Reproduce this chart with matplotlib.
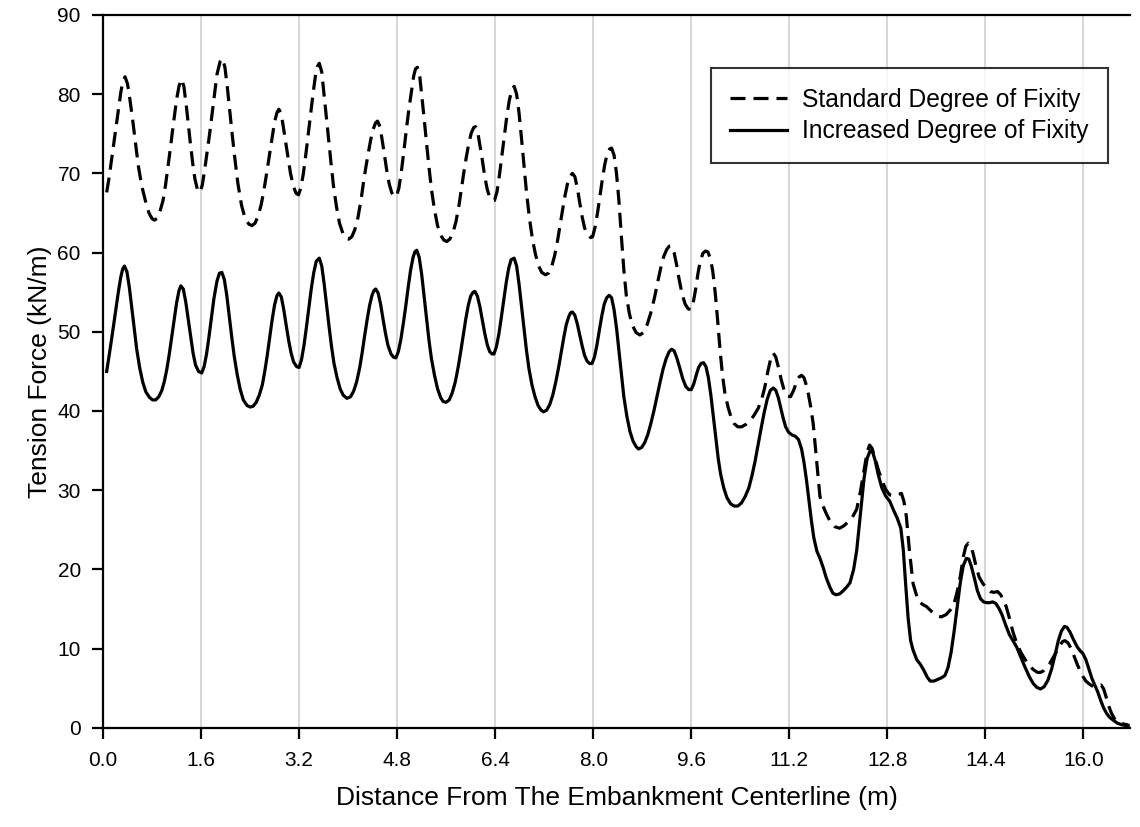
import matplotlib
matplotlib.use("Agg")
import matplotlib.pyplot as plt

plt.rcParams['font.family'] = ['Liberation Sans', 'DejaVu Sans']

# Standard Degree of Fixity (dashed)
std_x = [0.06, 0.10, 0.15, 0.20, 0.25, 0.29, 0.32, 0.36, 0.40, 0.44, 0.48, 0.51, 0.55, 0.58, 0.63, 0.69, 0.75, 0.80, 0.84, 0.88,
         0.93, 0.98, 1.02, 1.06, 1.10, 1.13, 1.17, 1.20, 1.24, 1.28, 1.32, 1.36, 1.40, 1.43, 1.47, 1.50, 1.54, 1.58, 1.62, 1.66,
         1.70, 1.74, 1.78, 1.82, 1.86, 1.91, 1.95, 1.99, 2.03, 2.07, 2.11, 2.15, 2.20, 2.26, 2.32, 2.38, 2.43, 2.48, 2.53, 2.58,
         2.62, 2.66, 2.70, 2.74, 2.78, 2.81, 2.84, 2.87, 2.91, 2.94, 2.98, 3.02, 3.06, 3.11, 3.15, 3.19, 3.23, 3.27, 3.31, 3.35,
         3.39, 3.43, 3.47, 3.50, 3.53, 3.57, 3.60, 3.64, 3.68, 3.72, 3.76, 3.81, 3.86, 3.92, 3.97, 4.01, 4.06, 4.11, 4.16, 4.21,
         4.25, 4.29, 4.33, 4.37, 4.41, 4.45, 4.48, 4.52, 4.55, 4.59, 4.63, 4.67, 4.71, 4.75, 4.79, 4.83, 4.87, 4.91, 4.95, 4.99,
         5.03, 5.07, 5.10, 5.13, 5.17, 5.20, 5.24, 5.28, 5.32, 5.36, 5.41, 5.46, 5.51, 5.56, 5.61, 5.66, 5.71, 5.76, 5.81, 5.85,
         5.89, 5.93, 5.97, 6.01, 6.05, 6.08, 6.12, 6.15, 6.19, 6.23, 6.27, 6.31, 6.35, 6.39, 6.43, 6.47, 6.51, 6.55, 6.59, 6.63,
         6.67, 6.71, 6.75, 6.79, 6.83, 6.87, 6.91, 6.96, 7.01, 7.06, 7.11, 7.16, 7.22, 7.27, 7.32, 7.37, 7.42, 7.46, 7.50, 7.54,
         7.58, 7.62, 7.66, 7.70, 7.74, 7.78, 7.82, 7.86, 7.91, 7.96, 7.99, 8.03, 8.07, 8.11, 8.15, 8.19, 8.23, 8.27, 8.30, 8.34,
         8.38, 8.42, 8.46, 8.50, 8.54, 8.59, 8.64, 8.70, 8.76, 8.82, 8.88, 8.94, 9.00, 9.05, 9.10, 9.15, 9.20, 9.24, 9.28, 9.32,
         9.36, 9.40, 9.45, 9.50, 9.55, 9.59, 9.63, 9.67, 9.71, 9.75, 9.79, 9.83, 9.87, 9.91, 9.95, 9.99, 10.03, 10.07, 10.11, 10.15,
         10.20, 10.25, 10.30, 10.36, 10.42, 10.49, 10.55, 10.62, 10.69, 10.75, 10.80, 10.85, 10.90, 10.94, 10.98, 11.02, 11.07, 11.12, 11.17, 11.22,
         11.27, 11.32, 11.36, 11.40, 11.44, 11.48, 11.51, 11.55, 11.59, 11.64, 11.70, 11.75, 11.80, 11.87, 11.94, 12.02, 12.09, 12.16, 12.23, 12.30,
         12.36, 12.42, 12.47, 12.51, 12.55, 12.60, 12.66, 12.73, 12.78, 12.84, 12.90, 12.96, 13.03, 13.07, 13.11, 13.16, 13.22, 13.30, 13.37, 13.44,
         13.52, 13.60, 13.68, 13.76, 13.83, 13.88, 13.94, 13.99, 14.04, 14.08, 14.12, 14.16, 14.20, 14.25, 14.30, 14.36, 14.42, 14.48, 14.54, 14.60,
         14.65, 14.70, 14.74, 14.79, 14.85, 14.91, 14.98, 15.05, 15.12, 15.19, 15.25, 15.30, 15.35, 15.40, 15.45, 15.50, 15.56, 15.61, 15.66, 15.70,
         15.75, 15.80, 15.85, 15.90, 15.95, 15.99, 16.04, 16.10, 16.16, 16.22, 16.29, 16.33, 16.37, 16.41, 16.46, 16.51, 16.55, 16.61, 16.67, 16.73]
std_y = [67.6, 69.5, 72.3, 75.1, 78.0, 80.2, 81.5, 82.2, 81.3, 79.3, 77.0, 75.1, 72.6, 70.8, 68.5, 66.6, 65.0, 64.3, 64.1, 64.3,
         65.2, 66.6, 68.5, 70.8, 73.2, 75.1, 77.5, 79.3, 81.0, 81.9, 81.0, 78.5, 75.6, 73.5, 70.9, 69.3, 68.0, 67.6, 68.5, 70.5,
         72.7, 75.0, 77.5, 80.0, 82.5, 84.1, 84.5, 83.4, 80.8, 77.8, 74.8, 72.0, 68.8, 66.0, 64.3, 63.6, 63.4, 63.7, 64.6, 66.0,
         67.6, 69.5, 71.5, 73.5, 75.5, 76.8, 77.7, 78.1, 77.5, 76.0, 74.0, 72.0, 70.0, 68.3, 67.5, 67.3, 68.2, 70.0, 72.4, 75.0,
         77.6, 80.2, 82.5, 83.5, 83.9, 82.8, 80.5, 77.5, 74.5, 71.4, 68.5, 65.8, 63.7, 62.3, 61.8, 61.7, 62.0, 62.9, 64.4, 66.6,
         68.8, 70.8, 72.6, 74.3, 75.6, 76.4, 76.6, 75.9, 74.5, 72.5, 70.4, 68.7, 67.6, 67.1, 67.1, 68.2, 70.3, 72.8, 75.5, 78.0,
         80.2, 82.3, 83.2, 83.4, 82.2, 80.0, 77.0, 73.8, 70.8, 68.0, 65.4, 63.4, 62.2, 61.6, 61.4, 61.7, 62.5, 63.9, 66.0, 68.1,
         70.2, 72.1, 73.8, 75.1, 75.8, 75.9, 75.0, 73.6, 71.7, 69.6, 68.0, 67.0, 66.6, 66.6, 67.7, 69.8, 72.3, 74.8, 77.2, 79.2,
         80.5, 81.0, 80.0, 77.6, 74.4, 71.0, 67.7, 64.3, 61.6, 59.7, 58.3, 57.5, 57.2, 57.4, 58.2, 59.6, 61.6, 63.5, 65.4, 67.2,
         68.7, 69.6, 70.0, 69.6, 68.2, 66.3, 64.5, 63.1, 62.2, 61.9, 62.0, 63.2, 65.0, 67.2, 69.3, 71.2, 72.5, 73.1, 73.2, 72.3,
         70.0, 66.5, 62.0, 57.8, 54.6, 52.3, 50.8, 49.9, 49.6, 49.9, 50.9, 52.4, 54.3, 56.2, 58.0, 59.5, 60.4, 60.8, 60.8, 60.0,
         58.5, 56.7, 54.8, 53.5, 52.9, 52.8, 53.6, 55.3, 57.4, 59.0, 59.9, 60.2, 60.1, 59.3, 57.7, 55.0, 51.5, 47.7, 44.5, 42.2,
         40.5, 39.2, 38.4, 38.0, 38.0, 38.3, 38.7, 39.4, 40.3, 41.5, 43.0, 45.0, 46.7, 47.3, 46.8, 45.6, 43.9, 42.5, 41.9, 41.8,
         42.6, 43.7, 44.3, 44.5, 44.2, 43.2, 42.2, 40.5, 38.4, 34.2, 29.2, 28.0, 27.1, 26.0, 25.4, 25.2, 25.5, 26.0, 26.6, 27.6,
         29.8, 32.5, 34.8, 35.7, 35.3, 34.0, 32.4, 30.9, 30.0, 29.4, 29.3, 29.4, 29.6, 28.6, 26.7, 22.4, 18.2, 16.1, 15.6, 15.3,
         14.7, 14.2, 14.0, 14.3, 14.9, 15.4, 17.2, 19.1, 21.6, 22.9, 23.3, 23.0, 22.0, 20.3, 19.0, 18.2, 17.6, 17.2, 17.1, 17.2,
         16.8, 16.0, 15.3, 13.9, 12.1, 10.7, 9.5, 8.6, 7.8, 7.3, 7.0, 7.0, 7.2, 7.6, 8.1, 8.8, 9.6, 10.3, 10.9, 11.0,
         10.7, 10.0, 9.0, 8.0, 7.1, 6.5, 5.9, 5.5, 5.2, 5.2, 5.4, 4.9, 3.9, 2.8, 1.8, 1.1, 0.8, 0.6, 0.45, 0.35]

# Increased Degree of Fixity (solid)
inc_x = [0.06, 0.10, 0.15, 0.20, 0.25, 0.29, 0.32, 0.35, 0.39, 0.43, 0.47, 0.51, 0.55, 0.60, 0.65, 0.70, 0.76, 0.81, 0.86, 0.91,
         0.96, 1.00, 1.04, 1.08, 1.12, 1.16, 1.20, 1.24, 1.27, 1.31, 1.35, 1.39, 1.43, 1.47, 1.51, 1.56, 1.61, 1.65, 1.69, 1.73,
         1.77, 1.81, 1.86, 1.90, 1.94, 1.98, 2.02, 2.06, 2.10, 2.14, 2.19, 2.24, 2.29, 2.35, 2.40, 2.45, 2.50, 2.55, 2.60, 2.64,
         2.68, 2.72, 2.76, 2.80, 2.84, 2.87, 2.91, 2.95, 2.99, 3.03, 3.07, 3.11, 3.16, 3.20, 3.24, 3.28, 3.32, 3.36, 3.40, 3.44,
         3.48, 3.53, 3.57, 3.61, 3.65, 3.69, 3.73, 3.77, 3.82, 3.87, 3.92, 3.98, 4.04, 4.09, 4.14, 4.19, 4.23, 4.27, 4.31, 4.35,
         4.39, 4.42, 4.45, 4.49, 4.53, 4.57, 4.61, 4.65, 4.70, 4.74, 4.78, 4.82, 4.86, 4.90, 4.94, 4.98, 5.02, 5.06, 5.09, 5.12,
         5.16, 5.20, 5.24, 5.28, 5.32, 5.36, 5.41, 5.46, 5.51, 5.55, 5.60, 5.65, 5.70, 5.75, 5.80, 5.84, 5.88, 5.92, 5.96, 6.00,
         6.04, 6.07, 6.11, 6.15, 6.19, 6.23, 6.27, 6.31, 6.35, 6.38, 6.42, 6.46, 6.50, 6.54, 6.58, 6.62, 6.66, 6.71, 6.75, 6.79,
         6.83, 6.87, 6.91, 6.95, 7.00, 7.05, 7.10, 7.15, 7.19, 7.24, 7.29, 7.34, 7.39, 7.44, 7.48, 7.52, 7.56, 7.60, 7.63, 7.66,
         7.70, 7.74, 7.78, 7.82, 7.86, 7.90, 7.94, 7.98, 8.02, 8.06, 8.10, 8.14, 8.18, 8.22, 8.26, 8.30, 8.34, 8.38, 8.42, 8.46,
         8.50, 8.55, 8.60, 8.65, 8.70, 8.74, 8.79, 8.84, 8.89, 8.94, 8.99, 9.04, 9.09, 9.14, 9.19, 9.24, 9.28, 9.32, 9.36, 9.41,
         9.46, 9.51, 9.56, 9.60, 9.64, 9.68, 9.72, 9.76, 9.80, 9.84, 9.88, 9.92, 9.96, 10.00, 10.04, 10.08, 10.13, 10.18, 10.24, 10.30,
         10.36, 10.42, 10.48, 10.54, 10.59, 10.64, 10.69, 10.74, 10.79, 10.84, 10.89, 10.94, 10.98, 11.02, 11.06, 11.10, 11.14, 11.19, 11.24, 11.30,
         11.35, 11.40, 11.44, 11.48, 11.52, 11.56, 11.60, 11.65, 11.70, 11.75, 11.80, 11.86, 11.91, 11.96, 12.02, 12.08, 12.14, 12.19, 12.25, 12.30,
         12.36, 12.42, 12.47, 12.52, 12.56, 12.60, 12.65, 12.71, 12.77, 12.84, 12.90, 12.96, 13.02, 13.06, 13.10, 13.14, 13.18, 13.22, 13.28, 13.34,
         13.40, 13.45, 13.50, 13.56, 13.62, 13.68, 13.74, 13.79, 13.84, 13.89, 13.94, 13.99, 14.04, 14.09, 14.13, 14.17, 14.22, 14.27, 14.32, 14.37,
         14.42, 14.47, 14.52, 14.57, 14.62, 14.67, 14.73, 14.79, 14.85, 14.91, 14.98, 15.05, 15.12, 15.18, 15.24, 15.30, 15.36, 15.42, 15.48, 15.54,
         15.59, 15.64, 15.69, 15.73, 15.78, 15.84, 15.90, 15.95, 15.99, 16.04, 16.09, 16.14, 16.19, 16.23, 16.28, 16.33, 16.38, 16.43, 16.48, 16.55,
         16.62, 16.68, 16.73]
inc_y = [45.0, 47.0, 49.6, 52.3, 55.0, 56.9, 57.9, 58.3, 57.6, 55.6, 53.0, 50.3, 47.8, 45.4, 43.6, 42.4, 41.7, 41.4, 41.4, 41.8,
         42.6, 43.7, 45.2, 47.1, 49.3, 51.5, 53.6, 55.2, 55.8, 55.4, 53.8, 51.6, 49.3, 47.3, 45.8, 45.0, 44.8, 45.6, 47.2, 49.4,
         51.8, 54.2, 56.4, 57.4, 57.5, 56.6, 54.6, 52.0, 49.4, 47.0, 44.6, 42.7, 41.4, 40.7, 40.5, 40.6, 41.1, 42.0, 43.3, 45.0,
         47.0, 49.3, 51.5, 53.4, 54.6, 54.9, 54.4, 52.8, 50.8, 48.9, 47.3, 46.2, 45.6, 45.5, 46.5, 48.3, 50.6, 53.1, 55.5, 57.5,
         58.9, 59.3, 58.3, 56.0, 53.3, 50.6, 48.1, 46.0, 44.2, 42.8, 42.0, 41.6, 41.8, 42.5, 43.7, 45.5, 47.4, 49.5, 51.5, 53.3,
         54.6, 55.2, 55.4, 54.9, 53.5, 51.6, 49.8, 48.3, 47.2, 46.8, 46.7, 47.5, 49.0, 51.0, 53.2, 55.6, 57.8, 59.4, 60.1, 60.3,
         59.4, 57.3, 54.5, 51.6, 48.9, 46.6, 44.5, 42.8, 41.7, 41.2, 41.1, 41.4, 42.3, 43.7, 45.7, 47.6, 49.6, 51.6, 53.3, 54.5,
         55.0, 55.1, 54.5, 53.2, 51.5, 49.8, 48.4, 47.5, 47.2, 47.2, 48.1, 49.7, 51.8, 54.0, 56.2, 58.0, 59.1, 59.3, 58.3, 56.0,
         53.2, 50.3, 47.7, 45.4, 43.3, 41.8, 40.7, 40.1, 39.9, 40.1, 40.8, 42.0, 43.7, 45.7, 47.5, 49.3, 50.9, 51.9, 52.4, 52.5,
         52.1, 51.0, 49.6, 48.2, 47.0, 46.3, 46.0, 46.0, 46.8, 48.3, 50.2, 52.0, 53.5, 54.3, 54.6, 54.3, 52.8, 50.5, 47.6, 44.6,
         41.8, 39.3, 37.4, 36.2, 35.5, 35.2, 35.4, 36.0, 37.0, 38.4, 40.0, 41.8, 43.6, 45.3, 46.6, 47.5, 47.8, 47.6, 46.8, 45.5,
         44.1, 43.1, 42.7, 42.7, 43.4, 44.5, 45.5, 46.0, 46.1, 45.6, 44.2, 42.0, 39.3, 36.5, 34.0, 32.0, 30.3, 29.1, 28.3, 28.0,
         28.0, 28.4, 29.2, 30.3, 31.8, 33.6, 35.7, 37.8, 39.8, 41.5, 42.6, 42.9, 42.6, 41.7, 40.4, 39.1, 38.0, 37.3, 37.0, 36.8,
         36.4, 35.2, 33.5, 31.3, 28.8, 26.2, 24.0, 22.3, 21.4, 20.3, 19.0, 17.8, 17.0, 16.8, 16.9, 17.3, 17.8, 18.3, 20.0, 22.4,
         27.0, 31.5, 34.0, 35.0, 34.8, 33.8, 32.0, 30.3, 29.3, 28.6, 27.5, 26.5, 25.2, 22.5, 18.0, 13.8, 11.0, 9.8, 8.6, 8.0,
         7.2, 6.4, 5.9, 5.9, 6.1, 6.3, 6.6, 7.6, 9.5, 12.2, 15.3, 18.3, 20.5, 21.4, 21.3, 20.4, 18.9, 17.3, 16.3, 15.9,
         15.8, 15.8, 15.9, 15.7, 15.1, 14.3, 13.0, 11.8, 11.0, 10.2, 8.9, 7.6, 6.4, 5.6, 5.1, 4.9, 5.2, 6.0, 7.4, 9.3,
         11.0, 12.2, 12.8, 12.7, 12.1, 11.1, 10.2, 9.7, 9.4, 8.6, 7.4, 6.2, 5.3, 4.6, 3.5, 2.5, 1.8, 1.3, 1.0, 0.6,
         0.4, 0.3, 0.3]

x_ticks = [0.0, 1.6, 3.2, 4.8, 6.4, 8.0, 9.6, 11.2, 12.8, 14.4, 16.0]
x_tick_labels = ["0.0", "1.6", "3.2", "4.8", "6.4", "8.0", "9.6", "11.2", "12.8", "14.4", "16.0"]
y_ticks = [0, 10, 20, 30, 40, 50, 60, 70, 80, 90]

fig = plt.figure(figsize=(11.4, 8.27), dpi=100)
ax = fig.add_axes([103 / 1140, 1 - 727.8 / 827, (1130 - 103) / 1140, (727.8 - 15) / 827])

ax.plot(std_x, std_y, color='black', lw=2.3, dashes=(4.7, 2.5),
        label='Standard Degree of Fixity', dash_capstyle='butt', solid_joinstyle='round')
ax.plot(inc_x, inc_y, color='black', lw=2.3, label='Increased Degree of Fixity',
        solid_joinstyle='round')

ax.set_xlim(0, 16.76)
ax.set_ylim(0, 90)
ax.set_xticks(x_ticks)
ax.set_xticklabels(x_tick_labels)
ax.set_yticks(y_ticks)

ax.grid(axis='x', color='#d0d0d0', lw=1.2)
ax.set_axisbelow(True)

for side in ['left', 'bottom', 'top']:
    ax.spines[side].set_linewidth(1.6)
    ax.spines[side].set_color('black')
ax.spines['right'].set_visible(False)

ax.tick_params(axis='both', direction='out', length=8, width=1.6, labelsize=15,
               colors='black')
ax.tick_params(axis='x', pad=9)
ax.tick_params(axis='y', pad=8)

ax.set_xlabel('Distance From The Embankment Centerline (m)', fontsize=19, labelpad=11)
ax.set_ylabel('Tension Force (kN/m)', fontsize=19, labelpad=4)

leg = ax.legend(loc='upper right', bbox_to_anchor=(1108 / 1140, 1 - 68.3 / 827),
                bbox_transform=fig.transFigure, fontsize=17.7, frameon=True,
                fancybox=False, shadow=False, handlelength=2.3, handletextpad=0.6,
                labelspacing=0.3, borderpad=0.8, borderaxespad=0)
leg.get_frame().set_edgecolor('black')
leg.get_frame().set_linewidth(1.5)

fig.savefig('out.png', dpi=100)
